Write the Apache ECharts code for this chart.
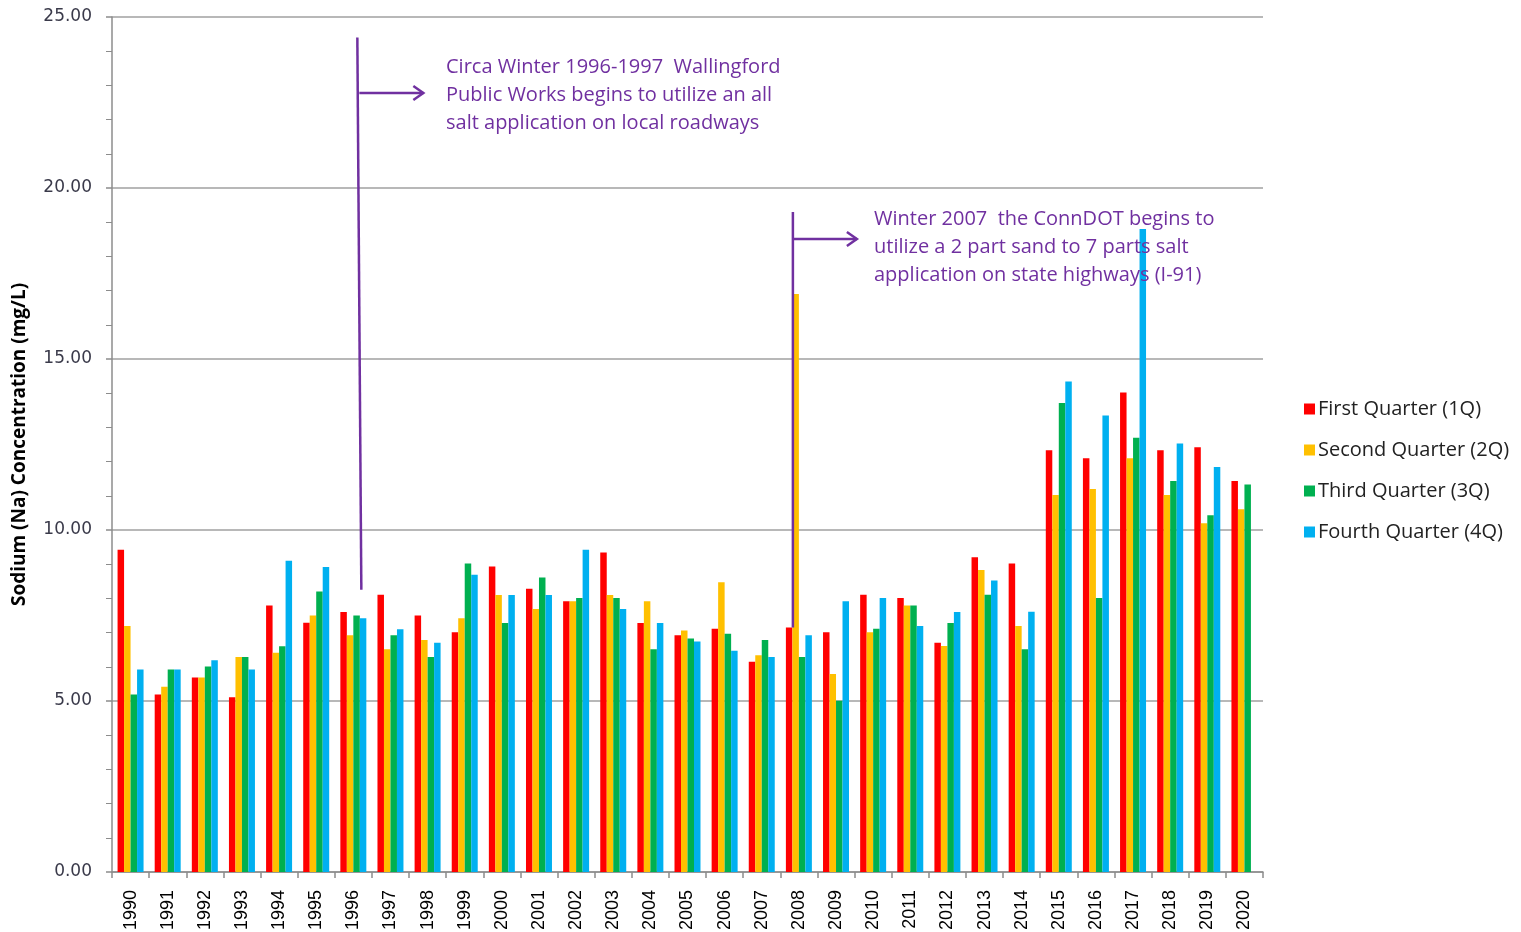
<!DOCTYPE html>
<html>
<head>
<meta charset="utf-8">
<script src="https://cdn.jsdelivr.net/npm/echarts@6/dist/echarts.min.js"></script>
<style>
html,body{margin:0;padding:0;background:#fff;}
#chart{width:1521px;height:932px;}
</style>
</head>
<body>
<div id="chart"></div>
<script>
const years = ['1990','1991','1992','1993','1994','1995','1996','1997','1998','1999','2000','2001','2002','2003','2004','2005','2006','2007','2008','2009','2010','2011','2012','2013','2014','2015','2016','2017','2018','2019','2020'];
const q1 = [9.42,5.19,5.69,5.11,7.79,7.29,7.60,8.11,7.50,7.01,8.93,8.28,7.92,9.34,7.28,6.92,7.11,6.15,7.15,7.01,8.11,8.01,6.70,9.20,9.02,12.33,12.10,14.02,12.33,12.42,11.43];
const q2 = [7.19,5.42,5.69,6.29,6.41,7.50,6.92,6.51,6.78,7.42,8.10,7.69,7.92,8.10,7.92,7.06,8.47,6.34,16.90,5.79,7.01,7.79,6.61,8.83,7.19,11.02,11.20,12.10,11.02,10.20,10.61];
const q3 = [5.19,5.92,6.01,6.29,6.60,8.20,7.50,6.92,6.29,9.02,7.28,8.61,8.01,8.01,6.51,6.83,6.97,6.78,6.29,5.01,7.11,7.79,7.28,8.11,6.51,13.71,8.01,12.70,11.43,10.43,11.33];
const q4 = [5.92,5.92,6.19,5.92,9.10,8.92,7.42,7.10,6.70,8.69,8.10,8.10,9.42,7.69,7.28,6.74,6.47,6.29,6.92,7.92,8.01,7.19,7.60,8.52,7.61,14.34,13.35,18.80,12.53,11.84,null];
const seriesNames = ['First Quarter (1Q)','Second Quarter (2Q)','Third Quarter (3Q)','Fourth Quarter (4Q)'];
const colors = ['#FF0000','#FFC000','#00B050','#00B0F0'];
const yTicks = [0,5,10,15,20,25];
const note1 = ['Circa Winter 1996-1997  Wallingford','Public Works begins to utilize an all','salt application on local roadways'];
const note2 = ['Winter 2007  the ConnDOT begins to','utilize a 2 part sand to 7 parts salt','application on state highways (I-91)'];

const chart = echarts.init(document.getElementById('chart'), null, {renderer:'canvas'});
const purple = '#7030A0';
const allData = [q1,q2,q3,q4];

const option = {
  animation:false,
  backgroundColor:'#ffffff',
  color: colors,
  grid:{left:112, right:258, top:17, bottom:60, containLabel:false, outerBoundsMode:'none'},
  legend:{
    orient:'vertical', left:1299, top:394, itemWidth:11, itemHeight:11, itemGap:21,
    icon:'rect',
    textStyle:{fontFamily:'Open Sans', fontSize:20, color:'#222', padding:[0,0,0,-2]},
    data: seriesNames
  },
  xAxis:{
    type:'category', data: years,
    axisLine:{lineStyle:{color:'#8c8c8c', width:1.5}},
    axisTick:{show:true, interval:0, alignWithLabel:false, length:6, lineStyle:{color:'#8c8c8c', width:1.5}},
    axisLabel:{rotate:90, interval:0, margin:18, fontFamily:'Liberation Sans', fontSize:18, color:'#000'}
  },
  yAxis:{
    type:'value', min:yTicks[0], max:yTicks[yTicks.length-1], interval:5,
    name:'Sodium (Na) Concentration (mg/L)', nameLocation:'middle', nameGap:83,
    nameTextStyle:{fontFamily:'Open Sans', fontWeight:'bold', fontSize:19, color:'#000'},
    axisLine:{show:true, lineStyle:{color:'#8c8c8c', width:1.5}},
    axisTick:{show:true, length:6, lineStyle:{color:'#8c8c8c', width:1.5}},
    minorTick:{show:true, splitNumber:5, length:6, lineStyle:{color:'#8c8c8c', width:1}},
    splitLine:{show:true, lineStyle:{color:'#a0a0a0', width:1.5}},
    axisLabel:{formatter:v=>v.toFixed(2), margin:20, fontFamily:'DejaVu Sans', fontSize:17, color:'#3a3a4a'}
  },
  series: allData.map((d,i)=>({
    name: seriesNames[i], type:'bar', data:d,
    barGap:'0%', barCategoryGap:'30%',
    itemStyle:{color:colors[i]}
  }))
};
chart.setOption(option);

// annotations anchored with the chart's own coordinate conversion
function px(cat, val){ return chart.convertToPixel({xAxisIndex:0, yAxisIndex:0}, [cat, val]); }
const a1 = px('1996', 8.25); const a1top = px('1996', 24.4);
const a2 = px('2008', 7.15); const a2top = px('2008', 19.3);
const x1 = a1[0] + 6, x2 = a2[0] - 6;
const g = [];
function addNote(xTop, xBot, yTop, yBot, arrowY, textLines, textX, textY){
  const xa = (xTop + xBot) / 2;
  g.push({type:'line', shape:{x1:xTop, y1:yTop, x2:xBot, y2:yBot}, style:{stroke:purple, lineWidth:2.5}, z:100});
  g.push({type:'line', shape:{x1:xa, y1:arrowY, x2:xa+64, y2:arrowY}, style:{stroke:purple, lineWidth:2.5}, z:100});
  g.push({type:'polyline', shape:{points:[[xa+54,arrowY-7],[xa+64,arrowY],[xa+54,arrowY+7]]}, style:{stroke:purple, lineWidth:2.5, fill:null}, z:100});
  g.push({type:'text', x:textX, y:textY, style:{text:textLines.join('\n'), fill:purple, font:'20px "Open Sans"', lineHeight:28}, z:100});
}
addNote(x1-2, x1+2, a1top[1], a1[1], 93, note1, 446, 53);
addNote(x2, x2, a2top[1], a2[1], 239, note2, 874, 205);
chart.setOption({graphic:g});
</script>
</body>
</html>
